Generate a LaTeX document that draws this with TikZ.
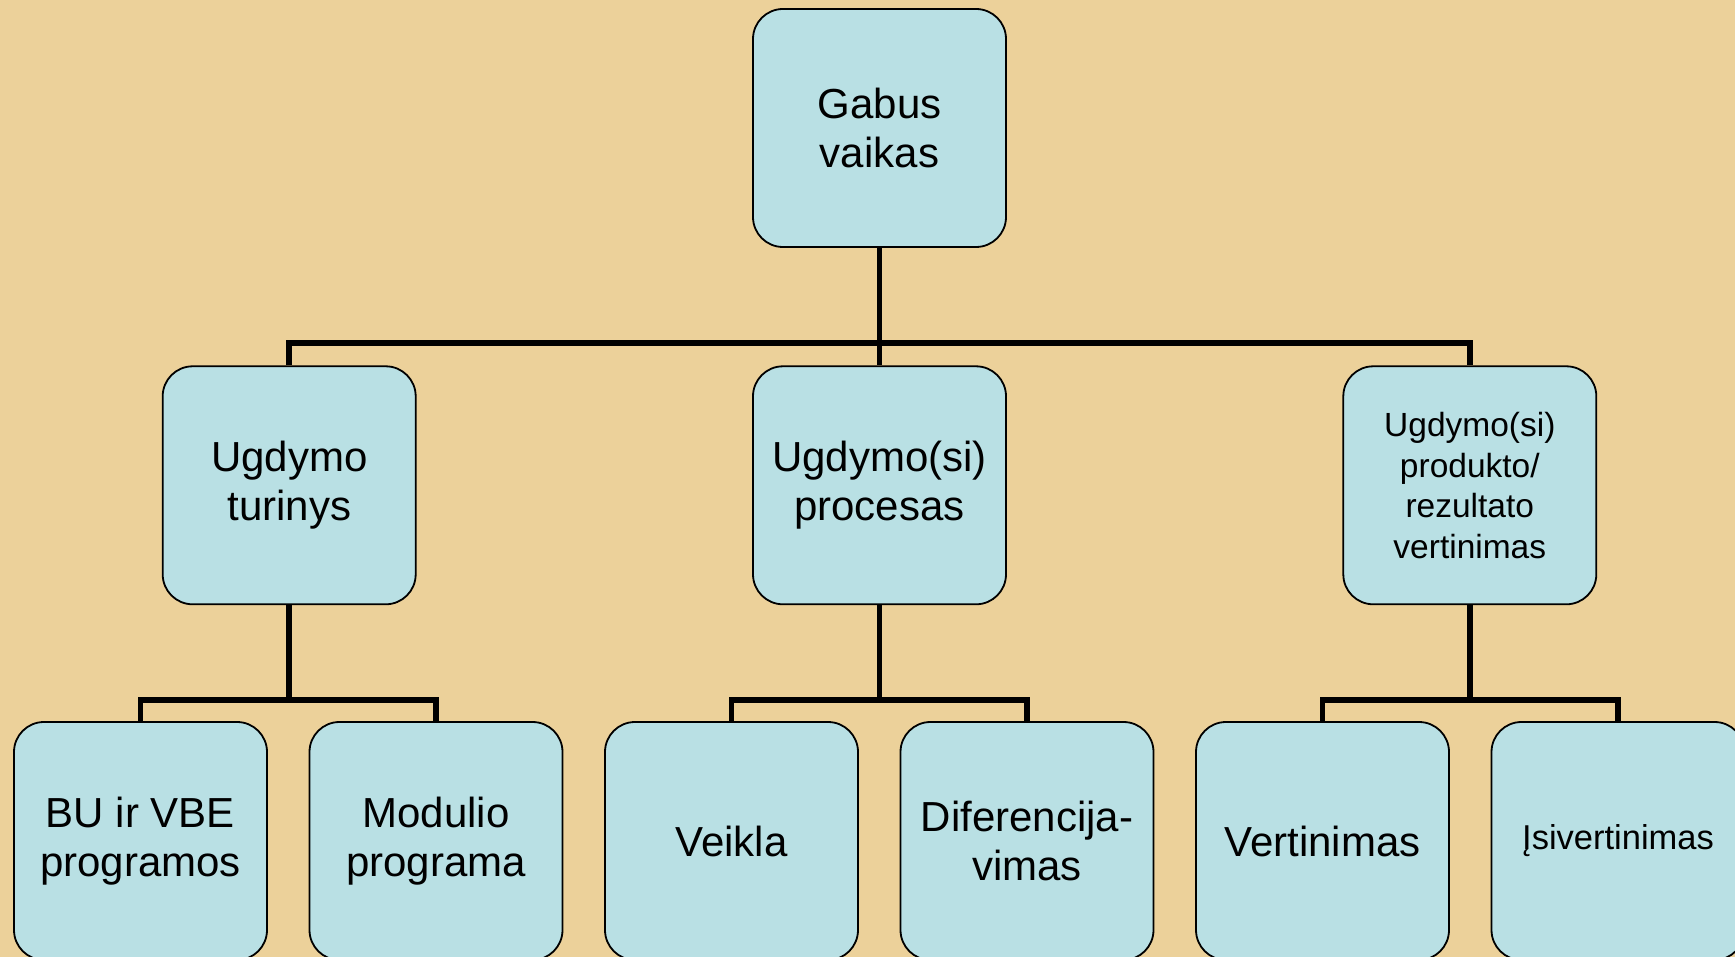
\documentclass[tikz,border=0pt]{standalone}
\usepackage{fontspec}
\setmainfont{Liberation Sans}
\usetikzlibrary{positioning}
\definecolor{papiro}{RGB}{236,209,154}
\definecolor{celeste}{RGB}{185,224,228}

\begin{document}
\begin{tikzpicture}[x=1pt,y=-1pt,node distance=40.7pt,main node/.style={draw=black,line width=1.8pt,fill=celeste,rounded corners=30pt,minimum width=253pt,minimum height=238pt,inner sep=0pt,align=center,font=\fontsize{42}{49}\selectfont},link/.style={line width=5.7pt}]
				
				% Fondo
				\fill[papiro] (0,0) rectangle (1735,957);
				\useasboundingbox (0,0) rectangle (1735,957);
				
				% Nodo raíz y segundo nivel
				\node[main node] (gabus) at (879.5,128) {Gabus\\vaikas};
				\node[main node] (procesas) [below=117.5pt of gabus] {Ugdymo(si)\\procesas};
				\node[main node] (turinys) [left=335.5pt of procesas] {Ugdymo\\turinys};
				\node[main node,font=\fontsize{33.5}{40.5}\selectfont] (rezultatas) [right=335.5pt of procesas] {Ugdymo(si)\\produkto/\\rezultato\\vertinimas};
				
				% Tercer nivel
				\node[main node] (bu) at (140.5,841) {BU ir VBE\\programos};
				\node[main node] (modulio) [right=of bu] {Modulio\\programa};
				\node[main node] (veikla) [right=of modulio] {Veikla};
				\node[main node] (diferenc) [right=of veikla] {Diferencija-\\vimas};
				\node[main node] (vertinimas) [right=of diferenc] {Vertinimas};
				\node[main node,font=\fontsize{34.5}{40}\selectfont] (isivert) [right=of vertinimas] {Įsivertinimas};
				
				% Conexiones
				\draw[link] (gabus.south) -- ++(0,95) coordinate (bus0);
				\draw[link] (turinys.north) |- (bus0) -| (rezultatas.north);
				\draw[link] (bus0) -- (procesas.north);
				
				\draw[link] (turinys.south) -- ++(0,95) coordinate (bus1);
				\draw[link] (bu.north) |- (bus1) -| (modulio.north);
				\draw[link] (procesas.south) -- ++(0,95) coordinate (bus2);
				\draw[link] (veikla.north) |- (bus2) -| (diferenc.north);
				\draw[link] (rezultatas.south) -- ++(0,95) coordinate (bus3);
				\draw[link] (vertinimas.north) |- (bus3) -| (isivert.north);
			\end{tikzpicture}
\end{document}
